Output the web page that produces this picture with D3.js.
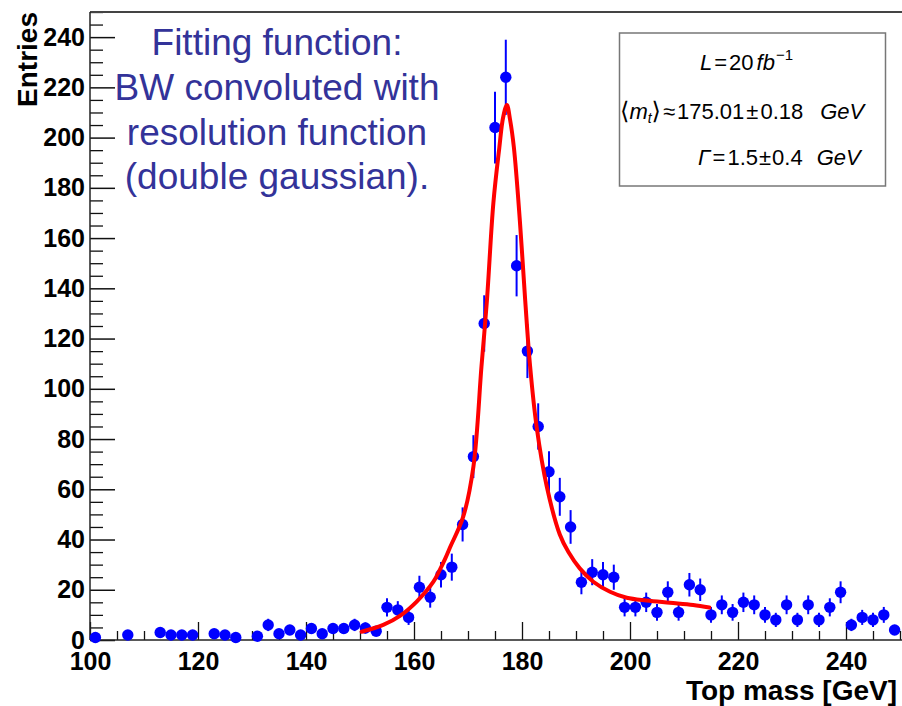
<!DOCTYPE html>
<html>
<head>
<meta charset="utf-8">
<script src="https://cdn.jsdelivr.net/npm/d3@7"></script>
<style>
  body { margin: 0; background: #fff; }
  svg { display: block; }
  text { font-family: "Liberation Sans", Arial, Helvetica, sans-serif; }
</style>
</head>
<body>
<svg id="chart" width="902" height="706"></svg>
<script>
// ---------- data ----------
const masses = [101,107,113,115,117,119,123,125,127,
  131,133,135,137,139,141,143,145,147,149,
  151,153,155,157,159,161,163,165,167,169,
  171,173,175,177,179,181,183,185,187,189,
  191,193,195,197,199,201,203,205,207,209,
  211,213,215,217,219,221,223,225,227,229,
  231,233,235,237,239,241,243,245,247,249];
const entries = [1,2,3,2,2,2,2.5,2,1,
  1.5,6,2.5,4,2,4.6,2.5,4.6,4.6,6,
  4.8,3.5,13,12,9,21,17,26,29,46,
  73,126,204,224,149,115,85,67,57,45,
  23,27,26,25,13,13,15,11,19,11,
  22,20,10,14,11,15,14,10,8,14,
  8,14,8,13,19,6,9,8,10,4];

// fitted curve (BW convoluted with double gaussian)
const fitMass = [150.3,154.3,157.4,160.5,163.6,164.8,165.8,166.7,169.1,171.0,172.5,173.5,174.7,175.8,176.5,177.2,177.8,178.5,179.6,180.6,181.5,182.7,184.6,187.0,188.6,190.7,193.2,196.3,199.4,203.1,207.4,211.7,214.7];
const fitVal  = [3.3,6.0,9.6,15.3,23.2,28.0,32.5,37,49,69,109,135,174,196,208,213,207,196,167,135,109,85,61,42,35,28.5,23.2,19.2,16.8,15.7,14.8,13.9,12.9];

const xMajorTicks = [100,120,140,160,180,200,220,240];
const yMajorTicks = [0,20,40,60,80,100,120,140,160,180,200,220,240];
const xTitle = "Top mass [GeV]";
const yTitle = "Entries";
const noteLines = ["Fitting function:", "BW convoluted with", "resolution function", "(double gaussian)."];

// ---------- layout ----------
const svg = d3.select("#chart");
const L = 90, R = 900, T = 12, B = 640;
const x = d3.scaleLinear().domain([100, 250]).range([L, R]);
const y = d3.scaleLinear().domain([0, 250]).range([B, T]);

svg.append("rect").attr("width", 902).attr("height", 706).attr("fill", "#fff");

// minor ticks
const xMinor = d3.range(100, 251, 5).filter(v => v % 20 !== 0);
const yMinor = d3.range(0, 251, 5).filter(v => v % 20 !== 0);

const gxMinor = svg.append("g").attr("transform", `translate(0,${B})`)
  .call(d3.axisBottom(x).tickValues(xMinor).tickSizeInner(-9).tickSizeOuter(0).tickFormat(""));
const gx = svg.append("g").attr("transform", `translate(0,${B})`)
  .call(d3.axisBottom(x).tickValues(xMajorTicks).tickSizeInner(-18).tickSizeOuter(0).tickPadding(12).tickFormat(d3.format("d")));
const gyMinor = svg.append("g").attr("transform", `translate(${L},0)`)
  .call(d3.axisLeft(y).tickValues(yMinor).tickSizeInner(-13).tickSizeOuter(0).tickFormat(""));
const gy = svg.append("g").attr("transform", `translate(${L},0)`)
  .call(d3.axisLeft(y).tickValues(yMajorTicks).tickSizeInner(-25).tickSizeOuter(0).tickPadding(5).tickFormat(d3.format("d")));

[gxMinor, gx, gyMinor, gy].forEach(g => {
  g.select(".domain").remove();
  g.selectAll(".tick line").attr("stroke", "#111").attr("stroke-width", 1.3);
  g.selectAll("text").attr("fill", "#000").attr("font-size", 25).attr("font-weight", "bold")
    .attr("font-family", "'Liberation Sans', Arial, sans-serif");
});
gy.selectAll(".tick line").attr("stroke-width", 1.5);

// frame lines
svg.append("line").attr("x1", L).attr("x2", 902).attr("y1", T).attr("y2", T).attr("stroke", "#444").attr("stroke-width", 2);
svg.append("line").attr("x1", L).attr("x2", L).attr("y1", T).attr("y2", B).attr("stroke", "#222").attr("stroke-width", 1.5);
svg.append("line").attr("x1", L).attr("x2", 902).attr("y1", B).attr("y2", B).attr("stroke", "#222").attr("stroke-width", 1.5);

// axis titles
svg.append("text").attr("x", 897).attr("y", 700).attr("text-anchor", "end")
  .attr("font-size", 28).attr("font-weight", "bold").text(xTitle);
svg.append("text").attr("transform", "translate(37,12) rotate(-90)").attr("text-anchor", "end")
  .attr("font-size", 28).attr("font-weight", "bold").text(yTitle);

// data: error bars + markers
const pts = masses.map((m, i) => ({ m, v: entries[i], e: Math.sqrt(entries[i]) }));
const gPts = svg.append("g");
gPts.selectAll("line.err").data(pts).join("line").attr("class", "err")
  .attr("x1", d => x(d.m)).attr("x2", d => x(d.m))
  .attr("y1", d => y(d.v + d.e)).attr("y2", d => y(Math.max(0, d.v - d.e)))
  .attr("stroke", "#0000ff").attr("stroke-width", 2);
gPts.selectAll("circle").data(pts).join("circle")
  .attr("cx", d => x(d.m)).attr("cy", d => y(d.v)).attr("r", 5.7)
  .attr("fill", "#0000ff");

// fit curve
const fit = fitMass.map((m, i) => [m, fitVal[i]]);
svg.append("path").datum(fit)
  .attr("d", d3.line().x(d => x(d[0])).y(d => y(d[1])).curve(d3.curveCatmullRom.alpha(0.5)))
  .attr("fill", "none").attr("stroke", "#ff0000").attr("stroke-width", 4)
  .attr("stroke-linejoin", "round").attr("stroke-linecap", "round");

// annotation
const noteBase = [55, 100, 145, 189];
svg.append("g").selectAll("text").data(noteLines).join("text")
  .attr("x", 277).attr("y", (d, i) => noteBase[i]).attr("text-anchor", "middle")
  .attr("font-size", 37).attr("fill", "#333399").text(d => d);

// stats box
svg.append("rect").attr("x", 619.5).attr("y", 33).attr("width", 266).attr("height", 153)
  .attr("fill", "#fff").attr("stroke", "#777").attr("stroke-width", 1.5);

const fs = 22;
const t1 = svg.append("text").attr("x", 700).attr("y", 70).attr("font-size", fs);
t1.append("tspan").attr("font-style", "italic").text("L");
t1.append("tspan").attr("dx", 2).text("=");
t1.append("tspan").attr("dx", 2).text("20");
t1.append("tspan").attr("dx", 3).attr("font-style", "italic").text("fb");
t1.append("tspan").attr("dy", -10).attr("dx", 1).attr("font-size", 15).text("\u22121");

const t2 = svg.append("text").attr("x", 620).attr("y", 119).attr("font-size", fs);
t2.append("tspan").attr("font-family", "'DejaVu Sans', sans-serif").attr("font-size", 24).text("\u27E8");
t2.append("tspan").attr("font-style", "italic").text("m");
t2.append("tspan").attr("font-style", "italic").attr("font-size", 14).attr("dy", 4).text("t");
t2.append("tspan").attr("font-family", "'DejaVu Sans', sans-serif").attr("font-size", 24).attr("dy", -4).text("\u27E9");
t2.append("tspan").attr("dx", 2).text("\u2248");
t2.append("tspan").attr("dx", 2).text("175.01");
t2.append("tspan").attr("dx", 2).text("\u00B1");
t2.append("tspan").attr("dx", 2).text("0.18");
t2.append("tspan").attr("dx", 17).attr("font-style", "italic").text("GeV");

const t3 = svg.append("text").attr("x", 698).attr("y", 165).attr("font-size", fs);
t3.append("tspan").attr("font-style", "italic").text("\u0393");
t3.append("tspan").attr("dx", 2).text("=");
t3.append("tspan").attr("dx", 2).text("1.5");
t3.append("tspan").attr("dx", 1).text("\u00B1");
t3.append("tspan").attr("dx", 1).text("0.4");
t3.append("tspan").attr("dx", 14).attr("font-style", "italic").text("GeV");
</script>
</body>
</html>
